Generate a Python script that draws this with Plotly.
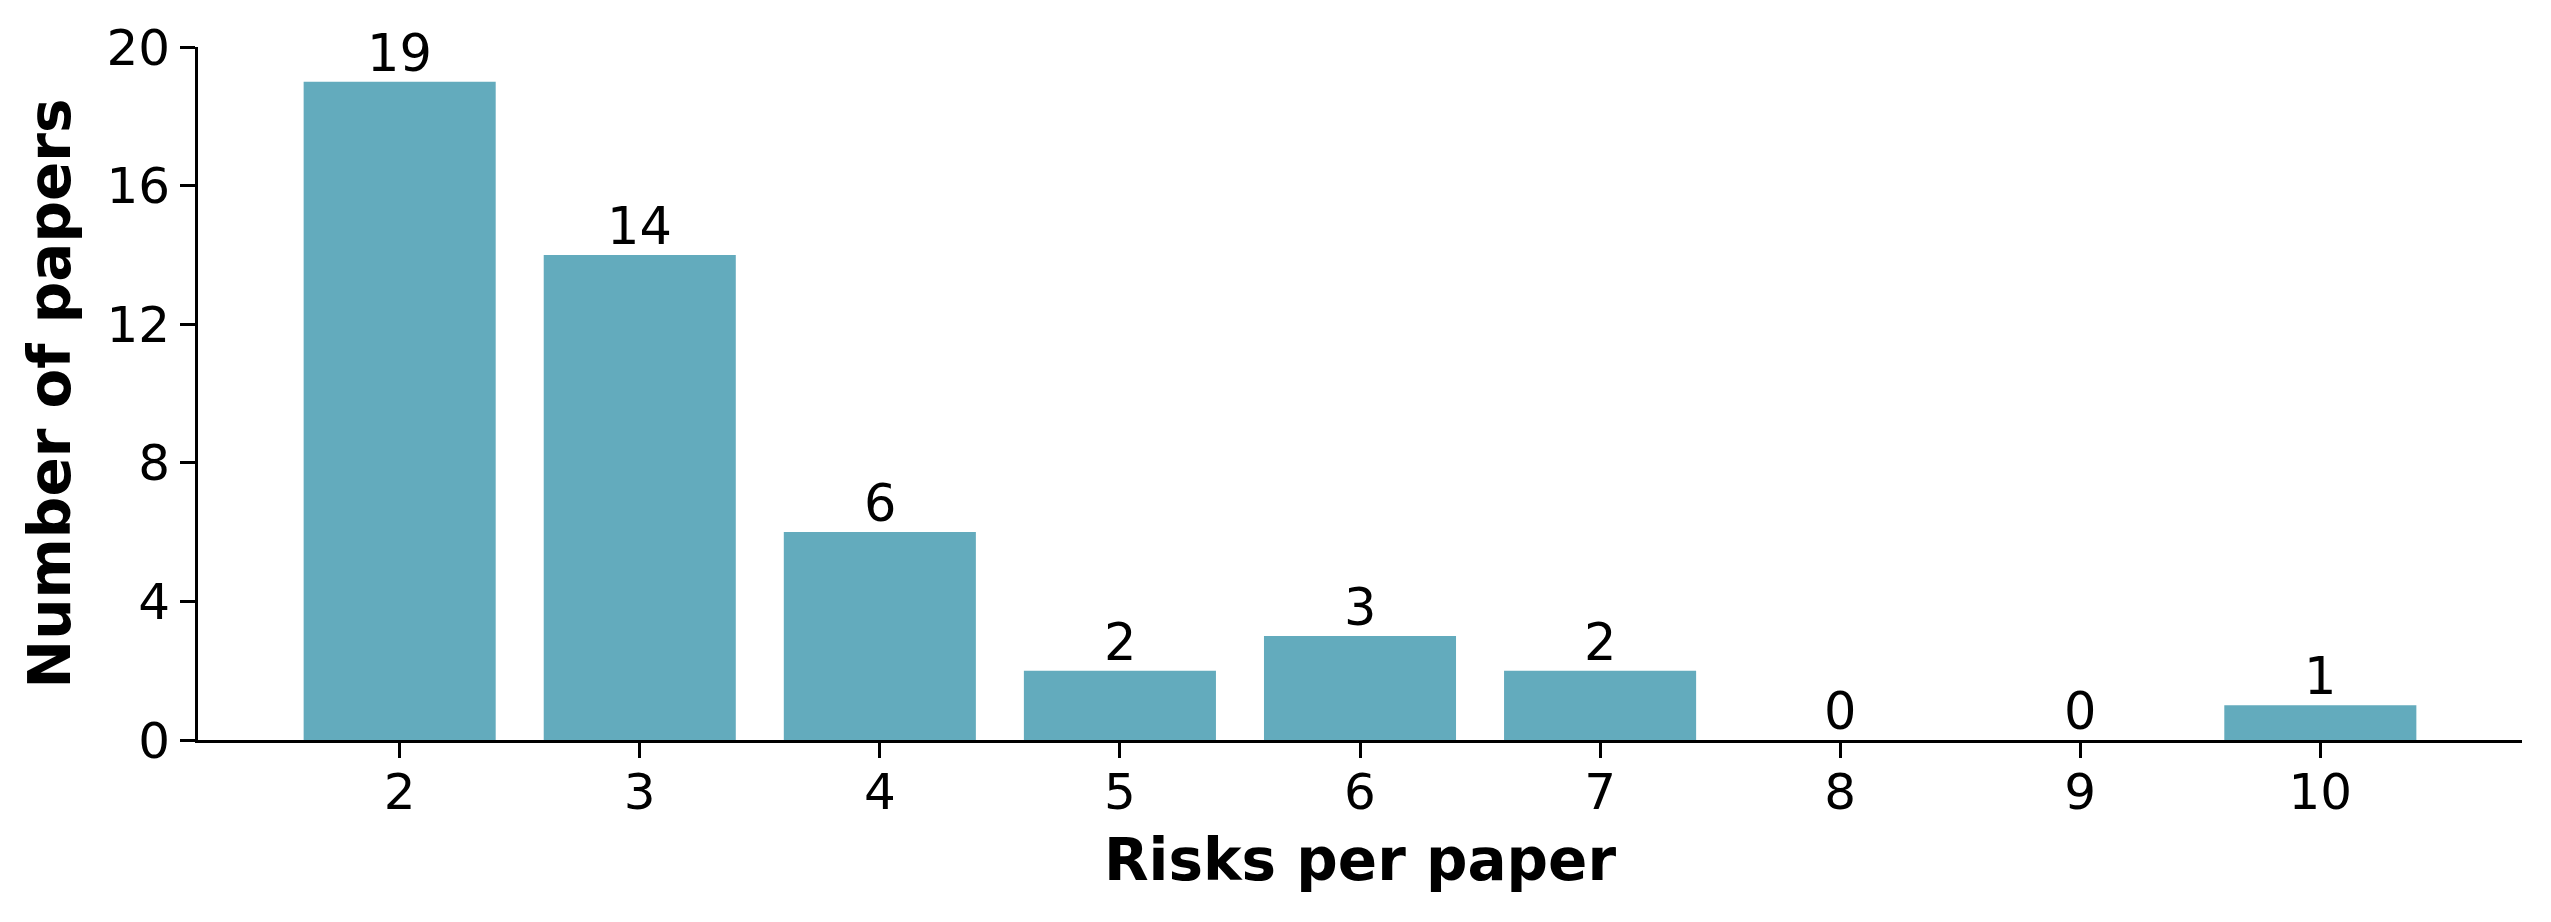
import plotly.graph_objects as go

risks_per_paper = [2, 3, 4, 5, 6, 7, 8, 9, 10]
num_papers = [19, 14, 6, 2, 3, 2, 0, 0, 1]
y_ticks = [0, 4, 8, 12, 16, 20]
x_ticks = [2, 3, 4, 5, 6, 7, 8, 9, 10]

BAR_COLOR = "#63abbd"
FONT = "DejaVu Sans"

fig = go.Figure()
fig.add_trace(go.Bar(
    x=risks_per_paper,
    y=num_papers,
    width=0.8,
    marker=dict(color=BAR_COLOR, line=dict(width=0)),
    cliponaxis=False,
    hoverinfo="skip",
))

for xv, yv in zip(risks_per_paper, num_papers):
    fig.add_annotation(
        x=xv, y=yv, xref="x", yref="y",
        text=str(yv), showarrow=False,
        xanchor="center", yanchor="bottom", yshift=-3,
        font=dict(family=FONT, size=51, color="black"),
    )

fig.update_layout(
    width=2551, height=922,
    margin=dict(l=198, r=29, t=47, b=182),
    paper_bgcolor="white", plot_bgcolor="white",
    showlegend=False,
    font=dict(family=FONT, color="black"),
)
fig.update_xaxes(
    range=[1.16, 10.84], automargin=False,
    tickmode="array", tickvals=x_ticks, ticktext=[str(t) for t in x_ticks],
    ticks="outside", ticklen=15, tickwidth=3, tickcolor="black",
    tickfont=dict(family=FONT, size=50, color="black"),
    ticklabelstandoff=-9,
    showline=True, linewidth=3, linecolor="black",
    showgrid=False, zeroline=False,
    title=dict(text="<b>Risks per paper</b>", font=dict(family=FONT, size=58, color="black"), standoff=20),
)
fig.update_yaxes(
    range=[0, 20], automargin=False,
    tickmode="array", tickvals=y_ticks, ticktext=[str(t) for t in y_ticks],
    ticks="outside", ticklen=15, tickwidth=3, tickcolor="black",
    tickfont=dict(family=FONT, size=50, color="black"),
    showline=True, linewidth=3, linecolor="black",
    showgrid=False, zeroline=False,
    title=dict(text="<b>Number of papers</b>", font=dict(family=FONT, size=58, color="black"), standoff=18),
)

fig.write_html(
    "out.html",
    config={"displayModeBar": False},
    post_script="document.body.style.margin='0';document.body.style.overflow='hidden';",
)
